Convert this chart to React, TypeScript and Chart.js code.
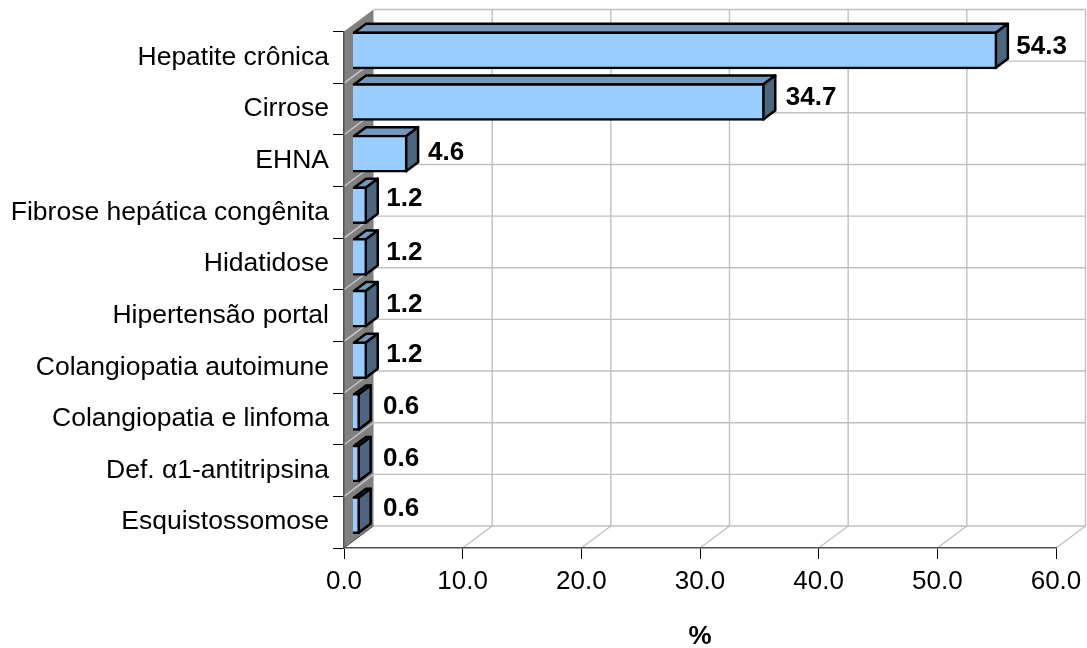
import React, { useEffect, useRef } from "react";
import { Chart, registerables } from "chart.js";

Chart.register(...registerables);

const categories = [
  "Hepatite crônica",
  "Cirrose",
  "EHNA",
  "Fibrose hepática congênita",
  "Hidatidose",
  "Hipertensão portal",
  "Colangiopatia autoimune",
  "Colangiopatia e linfoma",
  "Def. α1-antitripsina",
  "Esquistossomose",
];
const percentages = [54.3, 34.7, 4.6, 1.2, 1.2, 1.2, 1.2, 0.6, 0.6, 0.6];
const axisMax = 60;
const axisStep = 10;
const axisTitle = "%";

// Per-bar placement of the value labels, relative to the value pixel and the category centre.
const labelGaps = [28, 30, 29.5, 28, 28, 28, 28, 32, 32, 32];
const labelRises = [10.8, 11.5, 8.2, 13.9, 11.1, 11, 12, 12.2, 11.4, 13.1];

// Extruded look: how far the back wall and each bar's depth sit from the front plane.
const WALL_DX = 29.5;
const WALL_DY = -22;
const BAR_SHIFT_X = 8.5;
const BAR_SHIFT_Y = -7;
const DEPTH_DX = 12;
const DEPTH_DY = -9;
const FONT = '"Liberation Sans", Arial, sans-serif';

const COLORS = {
  front: "#99CCFF",
  top: "#7399BF",
  side: "#4D6680",
  wall: "#808080",
  grid: "#C0C0C0",
  wallLine: "#C8C8C8",
  axis: "#505050",
};

function polygon(ctx: CanvasRenderingContext2D, pts: number[][], fill?: string) {
  ctx.beginPath();
  pts.forEach(([x, y], i) => (i ? ctx.lineTo(x, y) : ctx.moveTo(x, y)));
  ctx.closePath();
  if (fill) {
    ctx.fillStyle = fill;
    ctx.fill();
  }
}

function segment(ctx: CanvasRenderingContext2D, x0: number, y0: number, x1: number, y1: number) {
  ctx.beginPath();
  ctx.moveTo(x0, y0);
  ctx.lineTo(x1, y1);
  ctx.stroke();
}

const roomPlugin = {
  id: "room",
  beforeDraw(chart: any) {
    const { ctx, chartArea: a, scales } = chart;
    const xs = scales.x;
    const ys = scales.y;
    ctx.save();
    ctx.lineWidth = 1.4;

    // Back wall grid and floor diagonals.
    ctx.strokeStyle = COLORS.grid;
    for (let v = 0; v <= axisMax; v += axisStep) {
      const px = xs.getPixelForValue(v);
      if (v > 0) {
        segment(ctx, px + WALL_DX, a.top + WALL_DY, px + WALL_DX, a.bottom + WALL_DY);
        segment(ctx, px, a.bottom, px + WALL_DX, a.bottom + WALL_DY);
      }
    }
    for (let i = 0; i <= categories.length; i++) {
      const py = ys.getPixelForDecimal(i / categories.length);
      segment(ctx, a.left + WALL_DX, py + WALL_DY, a.right + WALL_DX, py + WALL_DY);
    }

    // Grey side wall with its own rungs.
    polygon(
      ctx,
      [
        [a.left, a.top],
        [a.left + WALL_DX, a.top + WALL_DY],
        [a.left + WALL_DX, a.bottom + WALL_DY],
        [a.left, a.bottom],
      ],
      COLORS.wall,
    );
    ctx.strokeStyle = COLORS.wallLine;
    for (let i = 1; i < categories.length; i++) {
      const py = ys.getPixelForDecimal(i / categories.length);
      segment(ctx, a.left, py, a.left + WALL_DX, py + WALL_DY);
    }
    ctx.strokeStyle = COLORS.axis;
    ctx.lineWidth = 1;
    segment(ctx, a.left, a.bottom, a.left + WALL_DX, a.bottom + WALL_DY);
    ctx.restore();
  },
  beforeDatasetsDraw(chart: any) {
    const { ctx } = chart;
    const meta = chart.getDatasetMeta(0);
    ctx.save();
    ctx.lineWidth = 2.5;
    ctx.strokeStyle = "#000000";
    ctx.lineJoin = "round";
    meta.data.forEach((bar: any) => {
      const { x, y, base, height } = bar.getProps(["x", "y", "base", "height"], true);
      const l = base + BAR_SHIFT_X + 1;
      const r = x + BAR_SHIFT_X - 1;
      const t = y + BAR_SHIFT_Y - height / 2 + 1;
      const b = y + BAR_SHIFT_Y + height / 2 - 1;
      polygon(
        ctx,
        [
          [l, t],
          [l + DEPTH_DX, t + DEPTH_DY],
          [r + DEPTH_DX, t + DEPTH_DY],
          [r, t],
        ],
        COLORS.top,
      );
      ctx.stroke();
      polygon(
        ctx,
        [
          [r, t],
          [r + DEPTH_DX, t + DEPTH_DY],
          [r + DEPTH_DX, b + DEPTH_DY],
          [r, b],
        ],
        COLORS.side,
      );
      ctx.stroke();
    });
    ctx.restore();
    // The front faces come from the bar elements themselves, moved off the wall.
    ctx.save();
    ctx.translate(BAR_SHIFT_X, BAR_SHIFT_Y);
  },
  afterDatasetsDraw(chart: any) {
    const { ctx } = chart;
    ctx.restore();
    const meta = chart.getDatasetMeta(0);
    ctx.save();
    ctx.font = `bold 26px ${FONT}`;
    ctx.fillStyle = "#000000";
    ctx.textAlign = "left";
    ctx.textBaseline = "middle";
    meta.data.forEach((bar: any, i: number) => {
      const { x, y } = bar.getProps(["x", "y"], true);
      ctx.fillText(percentages[i].toFixed(1), x + labelGaps[i], y - labelRises[i]);
    });
    ctx.restore();
  },
};

export default function App() {
  const ref = useRef<HTMLCanvasElement>(null);
  useEffect(() => {
    const chart = new Chart(ref.current!, {
      type: "bar",
      plugins: [roomPlugin],
      data: {
        labels: categories,
        datasets: [
          {
            data: percentages,
            backgroundColor: COLORS.front,
            borderColor: "#000000",
            borderWidth: 2.5,
            barThickness: 37,
            clip: false,
          } as any,
        ],
      },
      options: {
        indexAxis: "y",
        animation: false,
        responsive: false,
        layout: { padding: { top: 31.5, right: 31, left: 0, bottom: 0 } },
        plugins: { legend: { display: false }, tooltip: { enabled: false } },
        scales: {
          x: {
            min: 0,
            max: axisMax,
            ticks: {
              stepSize: axisStep,
              maxRotation: 0,
              color: "#000000",
              padding: 7,
              font: { family: FONT, size: 26 },
              callback: (v: any) => Number(v).toFixed(1),
            },
            grid: { drawOnChartArea: false, tickLength: 11, tickColor: "#000000" },
            border: { color: COLORS.axis, width: 1.5 },
            title: {
              display: true,
              text: axisTitle,
              color: "#000000",
              font: { family: FONT, size: 26, weight: "bold" },
              padding: { top: 8, bottom: -4 },
            },
            afterFit: (s: any) => {
              s.height = 100;
              s.paddingRight = 0;
              s.paddingLeft = 0;
            },
          },
          y: {
            ticks: {
              autoSkip: false,
              color: "#000000",
              padding: 4,
              font: { family: FONT, size: 26.5 },
            },
            grid: { offset: true, drawOnChartArea: false, tickLength: 11, tickColor: "#000000" },
            border: { color: COLORS.axis, width: 1.5 },
            afterFit: (s: any) => {
              s.width = 344;
            },
          },
        },
      },
    } as any);
    return () => chart.destroy();
  }, []);
  return (
    <canvas
      ref={ref}
      width={1087}
      height={648}
      style={{ position: "absolute", left: 0, top: 0, width: 1087, height: 648, background: "#ffffff" }}
    />
  );
}
